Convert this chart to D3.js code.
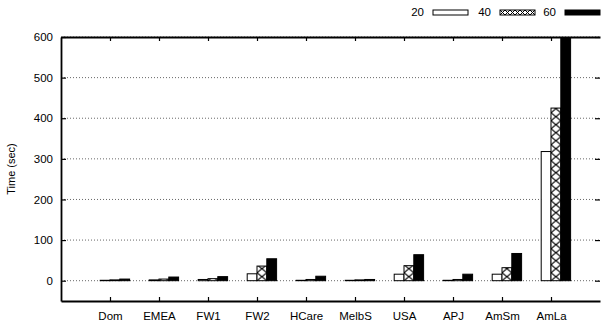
<!DOCTYPE html>
<html>
<head>
<meta charset="utf-8">
<script src="https://cdn.jsdelivr.net/npm/d3@7"></script>
<style>
  body { margin: 0; background: #fff; }
  svg { display: block; font-family: "Liberation Sans", Arial, sans-serif; }
</style>
</head>
<body>
<svg id="chart" width="601" height="327"></svg>
<script>
// data
const categories = ["Dom", "EMEA", "FW1", "FW2", "HCare", "MelbS", "USA", "APJ", "AmSm", "AmLa"];
const seriesNames = ["20", "40", "60"];
const t20 = [1, 2, 3, 17, 1, 1, 16, 1, 16, 318];
const t40 = [2, 4, 5, 36, 3, 2, 37, 3, 32, 425];
const t60 = [4, 9, 10, 54, 11, 3, 64, 16, 67, 640];
const yTicks = [0, 100, 200, 300, 400, 500, 600];

const series = [t20, t40, t60];

const svg = d3.select("#chart");
const margin = { top: 37, right: 1, bottom: 26, left: 61 };
const W = 601, H = 327;

const x = d3.scaleLinear().domain([-1, categories.length]).range([margin.left, W - margin.right]);
const y = d3.scaleLinear().domain([-50, 600]).range([H - margin.bottom, margin.top]);
const barW = x(0.2) - x(0);

const defs = svg.append("defs");
// crosshatch, anchored so each hatched bar starts on a cell
const pat = defs.append("pattern")
    .attr("id", "cross")
    .attr("patternUnits", "userSpaceOnUse")
    .attr("x", x(0)).attr("y", y(0))
    .attr("width", barW).attr("height", 8);
pat.append("rect").attr("width", barW).attr("height", 8).attr("fill", "#fff");
pat.append("path")
    .attr("d", `M0,0L${barW},8M${barW},0L0,8`)
    .attr("stroke", "#000").attr("stroke-width", 1.1);

defs.append("clipPath").attr("id", "plot")
    .append("rect")
    .attr("x", margin.left).attr("y", margin.top)
    .attr("width", W - margin.right - margin.left)
    .attr("height", H - margin.bottom - margin.top);

// dotted grid
svg.append("g").selectAll("line").data(yTicks).join("line")
    .attr("x1", margin.left).attr("x2", W - margin.right)
    .attr("y1", d => y(d)).attr("y2", d => y(d))
    .attr("stroke", "#000").attr("stroke-width", 0.6)
    .attr("stroke-dasharray", "1 2");

// bars
const fills = ["#fff", "url(#cross)", "#000"];
const bars = svg.append("g").attr("clip-path", "url(#plot)");
series.forEach((vals, s) => {
    bars.append("g").selectAll("rect").data(vals).join("rect")
        .attr("x", (d, i) => x(i + (s - 1) * 0.2))
        .attr("y", d => y(d))
        .attr("width", barW)
        .attr("height", d => y(0) - y(d))
        .attr("fill", fills[s])
        .attr("stroke", "#000").attr("stroke-width", 1);
});

// axes
const axLeft = svg.append("g").attr("transform", `translate(${margin.left},0)`)
    .call(d3.axisLeft(y).tickValues(yTicks).tickSizeInner(-5).tickSizeOuter(0).tickPadding(8));
const axRight = svg.append("g").attr("transform", `translate(${W - margin.right},0)`)
    .call(d3.axisRight(y).tickValues(yTicks).tickSizeInner(-5).tickSizeOuter(0).tickFormat(""));
const axBottom = svg.append("g").attr("transform", `translate(0,${H - margin.bottom})`)
    .call(d3.axisBottom(x).tickValues(d3.range(categories.length))
        .tickFormat(i => categories[i]).tickSizeInner(-4).tickSizeOuter(0).tickPadding(11));
const axTop = svg.append("g").attr("transform", `translate(0,${margin.top})`)
    .call(d3.axisTop(x).tickValues(d3.range(categories.length))
        .tickSizeInner(-4).tickSizeOuter(0).tickFormat(""));

[axLeft, axRight, axBottom, axTop].forEach(g => {
    g.select(".domain").attr("stroke", "#000").attr("stroke-width", 1.8);
    g.selectAll(".tick line").attr("stroke", "#000").attr("stroke-width", 1.2);
    g.selectAll("text").attr("font-size", 11.5).attr("fill", "#000")
        .attr("font-family", "Liberation Sans, Arial, sans-serif");
});
axRight.select(".domain").attr("stroke-width", 0);

svg.append("text")
    .attr("transform", `translate(15,${(margin.top + H - margin.bottom) / 2}) rotate(-90)`)
    .attr("text-anchor", "middle")
    .attr("font-size", 11)
    .text("Time (sec)");

// legend
const legendX = [424, 491, 556];
const patL = defs.append("pattern")
    .attr("id", "crossL")
    .attr("patternUnits", "userSpaceOnUse")
    .attr("x", legendX[1] + 9).attr("y", 10)
    .attr("width", 5).attr("height", 5);
patL.append("rect").attr("width", 5).attr("height", 5).attr("fill", "#fff");
patL.append("path").attr("d", "M0,0L5,5M5,0L0,5")
    .attr("stroke", "#000").attr("stroke-width", 1);

const leg = svg.append("g");
seriesNames.forEach((name, s) => {
    leg.append("text")
        .attr("x", legendX[s]).attr("y", 16)
        .attr("text-anchor", "end")
        .attr("font-size", 11.5)
        .text(name);
    leg.append("rect")
        .attr("x", legendX[s] + 9).attr("y", 10)
        .attr("width", 35).attr("height", 5)
        .attr("fill", s === 1 ? "url(#crossL)" : fills[s])
        .attr("stroke", "#000").attr("stroke-width", 1);
});
</script>
</body>
</html>
